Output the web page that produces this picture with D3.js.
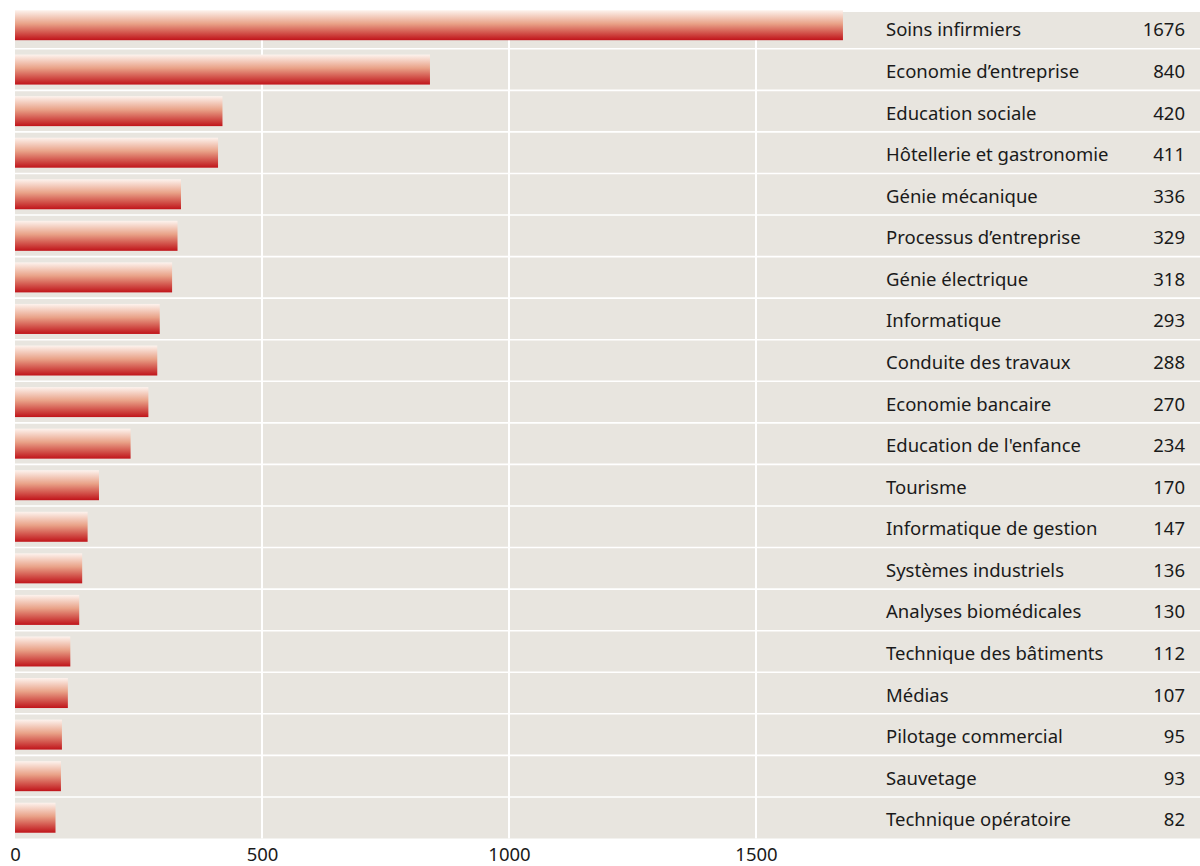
<!DOCTYPE html>
<html>
<head>
<meta charset="utf-8">
<script src="https://cdn.jsdelivr.net/npm/d3@7"></script>
<style>
  body { margin: 0; background: #fff; }
  text { font-family: "Noto Sans", "Open Sans", sans-serif; fill: #1a1a1a; }
</style>
</head>
<body>
<div id="chart"></div>
<script>
var svgWidth = 1200;
var svgHeight = 866;

// data
var categories = [
  "Soins infirmiers", "Economie d\u2019entreprise", "Education sociale",
  "Hôtellerie et gastronomie", "Génie mécanique", "Processus d\u2019entreprise",
  "Génie électrique", "Informatique", "Conduite des travaux", "Economie bancaire",
  "Education de l'enfance", "Tourisme", "Informatique de gestion",
  "Systèmes industriels", "Analyses biomédicales", "Technique des bâtiments",
  "Médias", "Pilotage commercial", "Sauvetage", "Technique opératoire"
];
var values = [1676, 840, 420, 411, 336, 329, 318, 293, 288, 270,
  234, 170, 147, 136, 130, 112, 107, 95, 93, 82];
var tickValues = [0, 500, 1000, 1500];

var svg = d3.select("#chart")
  .append("svg")
  .attr("width", svgWidth)
  .attr("height", svgHeight);

// gradient for the bars: pale on top, red at the bottom
var grad = svg.append("defs").append("linearGradient")
  .attr("id", "barGrad")
  .attr("x1", 0).attr("y1", 0).attr("x2", 0).attr("y2", 1);
grad.append("stop").attr("offset", "0%").attr("stop-color", "#fdf3ee");
grad.append("stop").attr("offset", "45%").attr("stop-color", "#e9a288");
grad.append("stop").attr("offset", "100%").attr("stop-color", "#c0141a");

var xScale = d3.scaleLinear()
  .domain([0, 1500])
  .range([15, 756]);

var yScale = d3.scaleBand()
  .domain(categories)
  .range([7.2, 838.5])
  .paddingInner(0)
  .paddingOuter(0);

// background panel
svg.append("rect")
  .attr("x", 15)
  .attr("y", 12)
  .attr("width", svgWidth - 15)
  .attr("height", 838.5 - 12)
  .attr("fill", "#e8e5df");

// vertical grid lines
svg.append("g")
  .selectAll("line")
  .data(tickValues.slice(1))
  .enter()
  .append("line")
  .attr("x1", d => xScale(d))
  .attr("x2", d => xScale(d))
  .attr("y1", 12)
  .attr("y2", 838.5)
  .attr("stroke", "#fff")
  .attr("stroke-width", 2);

// row separators
svg.append("g")
  .selectAll("line")
  .data(categories.slice(0, -1))
  .enter()
  .append("line")
  .attr("x1", 15)
  .attr("x2", svgWidth)
  .attr("y1", d => yScale(d) + yScale.bandwidth())
  .attr("y2", d => yScale(d) + yScale.bandwidth())
  .attr("stroke", "#fff")
  .attr("stroke-width", 1.6);

// bars (the top one sits a little higher, as in the original)
svg.append("g")
  .selectAll("rect")
  .data(values)
  .enter()
  .append("rect")
  .attr("x", xScale(0))
  .attr("y", (d, i) => yScale(categories[i]) + (i === 0 ? 3 : 5.8))
  .attr("width", d => xScale(d) - xScale(0))
  .attr("height", 30)
  .attr("fill", "url(#barGrad)");

// category labels and values
var labels = svg.append("g");
labels.selectAll(".cat")
  .data(categories)
  .enter()
  .append("text")
  .attr("class", "cat")
  .attr("x", 886)
  .attr("y", d => yScale(d) + yScale.bandwidth() / 2 + 8.5)
  .attr("font-size", "18.5px")
  .text(d => d);

labels.selectAll(".val")
  .data(values)
  .enter()
  .append("text")
  .attr("class", "val")
  .attr("x", 1185)
  .attr("y", (d, i) => yScale(categories[i]) + yScale.bandwidth() / 2 + 8.5)
  .attr("text-anchor", "end")
  .attr("font-size", "18.5px")
  .text(d => d);

// x axis labels
var bottomAxis = d3.axisBottom(xScale)
  .tickValues(tickValues)
  .tickFormat(d3.format("d"))
  .tickSize(0)
  .tickPadding(0);

var xAxis = svg.append("g")
  .attr("transform", "translate(0, 848)")
  .call(bottomAxis);
xAxis.select(".domain").remove();
xAxis.selectAll("text")
  .attr("font-size", "18.5px")
  .attr("font-family", "Noto Sans, Open Sans, sans-serif")
  .attr("fill", "#1a1a1a");
</script>
</body>
</html>
